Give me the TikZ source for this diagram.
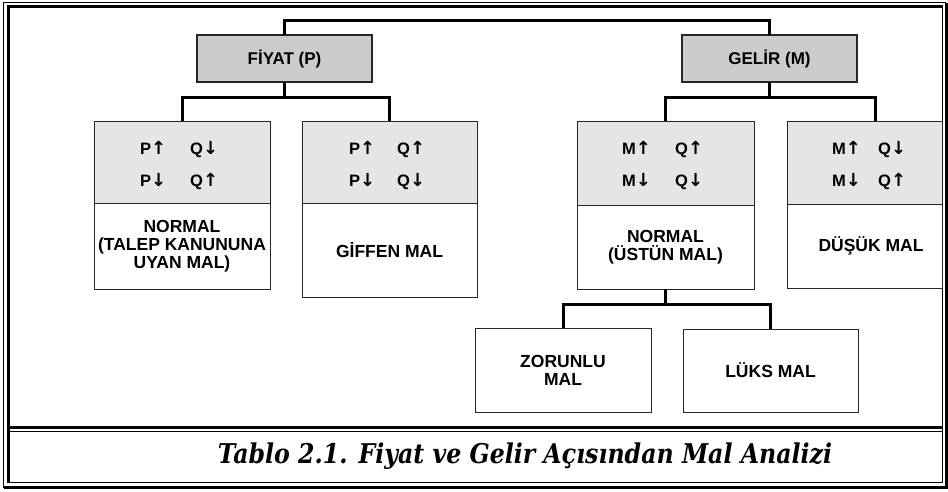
\documentclass[tikz,border=0pt]{standalone}
\usepackage{fontspec}
\usetikzlibrary{calc}
\newfontfamily\lsans{Liberation Sans}
\newfontfamily\arrfont{DejaVu Sans}
\newfontfamily\capserif{DejaVu Serif}
\definecolor{hdrgray}{gray}{0.80}
\definecolor{rowgray}{gray}{0.90}
\newcommand{\upar}{{\arrfont\fontsize{18}{18}\selectfont ↑}}
\newcommand{\dnar}{{\arrfont\fontsize{18}{18}\selectfont ↓}}
\begin{document}
\begin{tikzpicture}[x=1pt,y=-1pt,
 conn/.style={line width=3pt, line join=miter},
 thinframe/.style={line width=1.3pt},
 thickframe/.style={line width=3pt},
 hdrbox/.style={draw=black!85, fill=hdrgray, line width=1.1pt, inner sep=0pt, outer sep=0pt, anchor=north west, font=\lsans\bfseries\fontsize{17}{17}\selectfont},
 rowbox/.style={draw=black!85, fill=rowgray, line width=0.9pt, inner sep=0pt, outer sep=0pt, anchor=north west},
 lblbox/.style={draw=black!85, fill=white, line width=0.9pt, inner sep=0pt, outer sep=0pt, anchor=north west, align=center, font=\lsans\bfseries\fontsize{17.5}{18}\selectfont},
 lbltxt/.style={inner sep=0pt, align=center, font=\lsans\bfseries\fontsize{17.5}{18}\selectfont},
 rowtxt/.style={anchor=base west, inner sep=0pt, font=\lsans\bfseries\fontsize{16.5}{16.5}\selectfont},
 ]
\useasboundingbox (0,0) rectangle (948,491);
\fill[white] (0,0) rectangle (948,491);
% frame
\draw[thinframe] (3.5,488) -- (3.5,2.5) -- (946,2.5);
\draw[thickframe] (8,483) -- (8,6.5) -- (942.5,6.5);
\draw[thinframe] (942.5,6.5) -- (942.5,482.5) -- (8,482.5);
\draw[thickframe] (946.5,2.5) -- (946.5,487) -- (3.5,487);
\draw[thickframe] (8,427) -- (942.5,427);
\draw[thinframe] (8,431.5) -- (942.5,431.5);

% headers
\node[hdrbox, minimum width=175pt, minimum height=47pt] (fiyat) at (197,35) {FİYAT (P)};
\node[hdrbox, minimum width=175pt, minimum height=47pt] (gelir) at (682,35) {GELİR (M)};

% box 1
\node[rowbox, minimum width=176pt, minimum height=82pt] (b1top) at (94,121) {};
\node[lblbox, minimum width=176pt, minimum height=86pt] (b1bot) at (94,203) {NORMAL\\(TALEP KANUNUNA\\UYAN MAL)};
\node[rowtxt] (b1r1) at (140,154) {\makebox[50pt][l]{P\upar}Q\dnar};
\node[rowtxt] (b1r2) at (140,186) {\makebox[50pt][l]{P\dnar}Q\upar};
% box 2
\node[rowbox, minimum width=175pt, minimum height=82pt] (b2top) at (302,121) {};
\node[lblbox, minimum width=175pt, minimum height=94pt] (b2bot) at (302,203) {GİFFEN MAL};
\node[rowtxt] (b2r1) at (349,154) {\makebox[48pt][l]{P\upar}Q\upar};
\node[rowtxt] (b2r2) at (349,186) {\makebox[48pt][l]{P\dnar}Q\dnar};
% box 3
\node[rowbox, minimum width=177pt, minimum height=84pt] (b3top) at (577,121) {};
\node[lblbox, minimum width=177pt, minimum height=84pt] (b3bot) at (577,205) {NORMAL\\(ÜSTÜN MAL)};
\node[rowtxt] (b3r1) at (622,154) {\makebox[53pt][l]{M\upar}Q\upar};
\node[rowtxt] (b3r2) at (622,186) {\makebox[53pt][l]{M\dnar}Q\dnar};
% box 4
\node[rowbox, minimum width=155pt, minimum height=83pt] (b4top) at (787,121) {};
\node[lblbox, minimum width=155pt, minimum height=84pt] (b4bot) at (787,204) {};
\node[lbltxt] (b4lbl) at (871,246) {DÜŞÜK MAL};
\node[rowtxt] (b4r1) at (832,154) {\makebox[46pt][l]{M\upar}Q\dnar};
\node[rowtxt] (b4r2) at (832,186) {\makebox[46pt][l]{M\dnar}Q\upar};
% box 5, 6
\node[lblbox, minimum width=176pt, minimum height=84pt] (b5) at (475,328) {ZORUNLU\\MAL};
\node[lblbox, minimum width=175pt, minimum height=83pt] (b6) at (683,329) {LÜKS MAL};

% connectors
\draw[conn] (fiyat.north) -- ++(0,-15) -| (gelir.north);
\draw[conn] (fiyat.south) -- ++(0,15) coordinate (fj);
\draw[conn] (b1top.north) |- (fj) -| (b2top.north);
\draw[conn] (gelir.south) -- ++(0,15) coordinate (gj);
\coordinate (b4in) at ([xshift=88pt]b4top.north west);
\draw[conn] (b3top.north) |- (gj) -| (b4in);
\draw[conn] (b3bot.south) -- ++(0,15) coordinate (nj);
\draw[conn] (b5.north) |- (nj) -| (b6.north);

% caption
\node[inner sep=0pt, anchor=base] (cap) at (525,463) {\scalebox{1}[1.15]{\resizebox{614pt}{!}{\capserif\bfseries\itshape\fontsize{20}{20}\selectfont Tablo 2.1. Fiyat ve Gelir Açısından Mal Analizi}}};
\end{tikzpicture}
\end{document}
